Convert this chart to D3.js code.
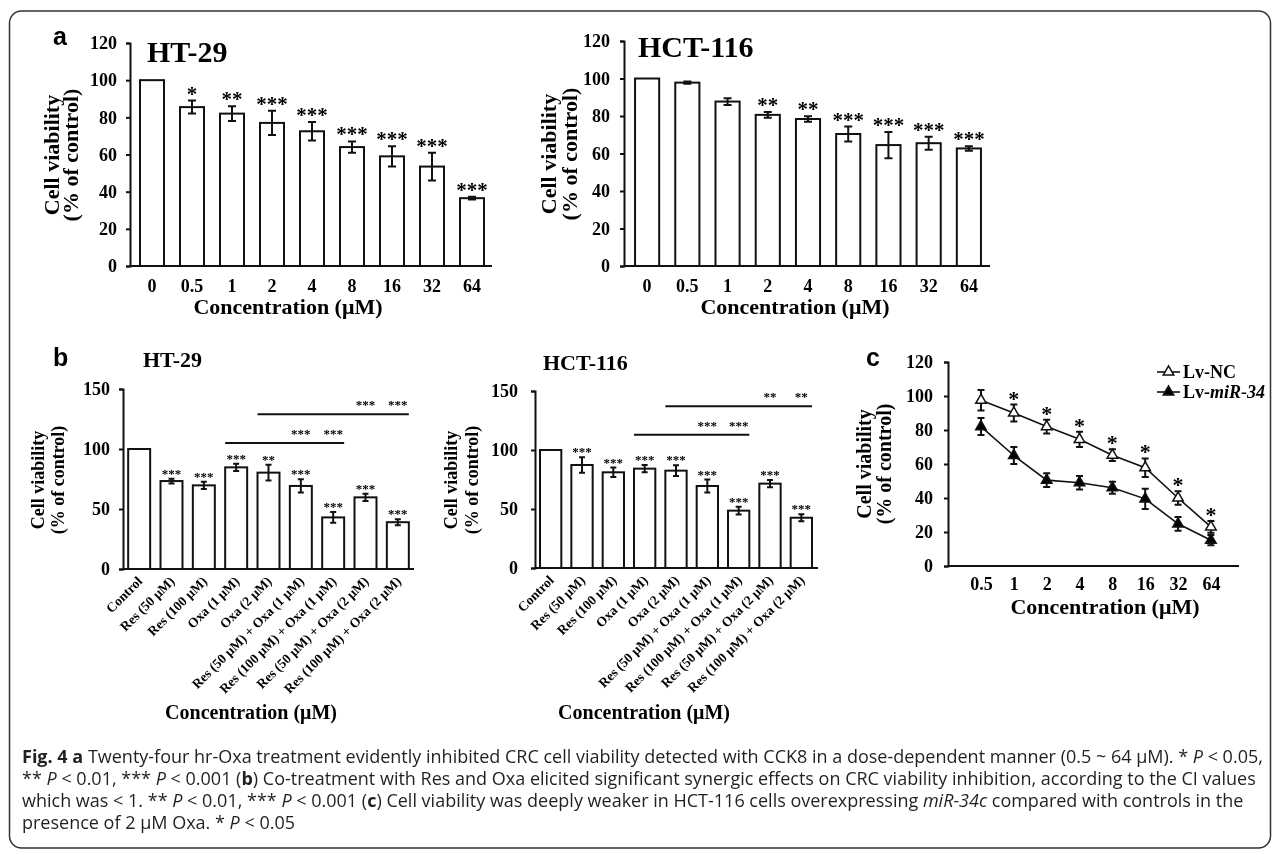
<!DOCTYPE html>
<html>
<head>
<meta charset="utf-8">
<script src="https://cdn.jsdelivr.net/npm/d3@7"></script>
<style>
body { margin: 0; background: #fff; }
#fig { will-change: transform; }
svg text { font-family: "Liberation Serif", "Times New Roman", serif; font-weight: bold; fill: #000; }
svg text.letter { font-family: "Liberation Sans", Arial, sans-serif; }
svg text.caption { font-family: "Open Sans", sans-serif; font-weight: normal; fill: #231f20; white-space: pre; }
</style>
</head>
<body>
<svg id="fig" width="1281" height="855"></svg>
<script>
// ---- data ----
var concA = ["0", "0.5", "1", "2", "4", "8", "16", "32", "64"];
var ht29A = [100, 85.5, 82, 77, 72.5, 64, 59, 53.5, 36.5];
var ht29AErr = [0, 3.5, 4, 6.5, 5, 3, 5.5, 7.5, 0.7];
var ht29ASig = ["", "*", "**", "***", "***", "***", "***", "***", "***"];
var hct116A = [100, 97.8, 87.7, 80.6, 78.4, 70.4, 64.5, 65.5, 62.7];
var hct116AErr = [0, 0.6, 1.8, 1.5, 1.5, 4, 7, 3.5, 1.2];
var hct116ASig = ["", "", "", "**", "**", "***", "***", "***", "***"];

var groupsB = ["Control", "Res (50 μM)", "Res (100 μM)", "Oxa (1 μM)", "Oxa (2 μM)",
  "Res (50 μM) + Oxa (1 μM)", "Res (100 μM) + Oxa (1 μM)", "Res (50 μM) + Oxa (2 μM)", "Res (100 μM) + Oxa (2 μM)"];
var ht29B = [100, 73.3, 69.7, 84.7, 80.3, 69.2, 43, 59.7, 39];
var ht29BErr = [0, 2, 3, 3, 6.5, 5.5, 4.5, 3, 2.5];
var ht29BSig = ["", "***", "***", "***", "**", "***", "***", "***", "***"];
var ht29Brackets = [[3, 6, 105, "***"], [4, 8, 129, "***"]];
var hct116B = [100, 87.3, 81.1, 84.2, 82.5, 69.5, 48.6, 71.5, 42.6];
var hct116BErr = [0, 6.5, 4, 3, 4.5, 5.5, 3.3, 3, 3];
var hct116BSig = ["", "***", "***", "***", "***", "***", "***", "***", "***"];
var hct116Brackets = [[3, 6, 113, "***"], [4, 8, 137, "**"]];

var concC = ["0.5", "1", "2", "4", "8", "16", "32", "64"];
var lvNC = [97.5, 90, 82, 74.5, 65.2, 57.8, 40, 23];
var lvNCErr = [6, 5, 4, 4.5, 3.5, 5.5, 4, 3.5];
var lvMiR = [82, 65, 50.5, 49, 46, 39.5, 24.8, 15.2];
var lvMiRErr = [5, 5, 4, 4, 3.5, 6, 4, 3];
var sigC = ["", "*", "*", "*", "*", "*", "*", "*"];

var svg = d3.select("#fig");

// outer frame
svg.append("rect")
  .attr("x", 9.5).attr("y", 11).attr("width", 1261).attr("height", 837).attr("rx", 12)
  .attr("fill", "none").attr("stroke", "#333").attr("stroke-width", 1.5);

function styleAxis(ax, fontSize) {
  ax.attr("font-family", null).attr("font-size", null);
  ax.selectAll(".domain, .tick line").attr("stroke", "#111").attr("stroke-width", 2);
  ax.selectAll(".tick text").style("font-size", fontSize + "px").attr("fill", "#000");
}

function addText(x, y, str, size, anchor, cls) {
  return svg.append("text").attr("x", x).attr("y", y)
    .attr("text-anchor", anchor || "start")
    .attr("class", cls || null)
    .style("font-size", size + "px").text(str);
}

function yLabel(b1, b2, cy, size) {
  [["Cell viability", b1], ["(% of control)", b2]].forEach(function(p) {
    svg.append("text")
      .attr("transform", `translate(${p[1]},${cy}) rotate(-90)`)
      .attr("text-anchor", "middle")
      .style("font-size", size + "px")
      .text(p[0]);
  });
}

// bar chart panel
function barPanel(o) {
  var x = d3.scaleBand().domain(o.cats).range(o.xRange)
    .paddingInner(o.padIn).paddingOuter(o.padOut);
  var y = d3.scaleLinear().domain([0, o.yMax]).range(o.yRange);
  var g = svg.append("g");

  // bars
  g.selectAll("rect").data(o.values).join("rect")
    .attr("x", (d, i) => x(o.cats[i]))
    .attr("y", d => y(d))
    .attr("width", x.bandwidth())
    .attr("height", d => y(0) - y(d))
    .attr("fill", "#fff").attr("stroke", "#111").attr("stroke-width", 2);

  // error bars
  o.values.forEach(function(v, i) {
    var e = o.errs[i];
    if (!e) return;
    var cx = x(o.cats[i]) + x.bandwidth() / 2;
    var path = d3.path();
    path.moveTo(cx, y(v - e)); path.lineTo(cx, y(v + e));
    path.moveTo(cx - o.cap, y(v - e)); path.lineTo(cx + o.cap, y(v - e));
    path.moveTo(cx - o.cap, y(v + e)); path.lineTo(cx + o.cap, y(v + e));
    g.append("path").attr("d", path.toString())
      .attr("stroke", "#111").attr("stroke-width", 2).attr("fill", "none");
  });

  // significance stars
  o.values.forEach(function(v, i) {
    if (!o.sig[i]) return;
    var cx = x(o.cats[i]) + x.bandwidth() / 2;
    g.append("text").attr("x", cx).attr("y", y(v + o.errs[i]) - o.starGap)
      .attr("text-anchor", "middle").style("font-size", o.starFont + "px")
      .text(o.sig[i]);
  });

  // comparison brackets
  (o.brackets || []).forEach(function(b) {
    var x0 = x(o.cats[b[0]]), x1 = x(o.cats[b[1]]) + x.bandwidth();
    g.append("line").attr("x1", x0).attr("x2", x1)
      .attr("y1", y(b[2])).attr("y2", y(b[2]))
      .attr("stroke", "#111").attr("stroke-width", 2);
    [b[1] - 1, b[1]].forEach(function(k) {
      g.append("text")
        .attr("x", x(o.cats[k]) + x.bandwidth() / 2)
        .attr("y", y(b[2]) - 5)
        .attr("text-anchor", "middle").style("font-size", o.starFont + "px")
        .text(b[3]);
    });
  });

  // axes
  var yAxis = g.append("g").attr("transform", `translate(${o.axisX},0)`)
    .call(d3.axisLeft(y).tickValues(o.yTicks).tickSize(4).tickSizeOuter(4).tickPadding(o.yPad));
  styleAxis(yAxis, o.tickFont);

  var xAxis = g.append("g").attr("transform", `translate(0,${y(0)})`)
    .call(d3.axisBottom(x).tickSize(0).tickPadding(o.xPad));
  xAxis.select(".domain").attr("d", `M${o.axisX},0H${o.xRange[1] + o.xOver}`);
  styleAxis(xAxis, o.xFont);
  if (o.rotate) {
    xAxis.selectAll(".tick text")
      .attr("x", 0).attr("y", 0).attr("dy", null)
      .attr("text-anchor", "end")
      .attr("transform", "translate(4,13) rotate(-45)");
  }
  return { x: x, y: y };
}

// ---- panel a ----
addText(53, 45, "a", 25, "start", "letter");
barPanel({
  cats: concA, values: ht29A, errs: ht29AErr, sig: ht29ASig,
  xRange: [132, 492], padIn: 0.4, padOut: 0.2, xOver: 0,
  yMax: 120, yRange: [266, 43], yTicks: d3.range(0, 121, 20), axisX: 130,
  yPad: 9, xPad: 13, tickFont: 18, xFont: 18, cap: 4, starFont: 21, starGap: 0
});
addText(147, 62, "HT-29", 30);
yLabel(59, 78, 155, 22);
addText(288, 314, "Concentration (μM)", 22, "middle");

barPanel({
  cats: concA, values: hct116A, errs: hct116AErr, sig: hct116ASig,
  xRange: [627, 989], padIn: 0.4, padOut: 0.2, xOver: 1,
  yMax: 120, yRange: [266, 41], yTicks: d3.range(0, 121, 20), axisX: 624,
  yPad: 10, xPad: 13, tickFont: 18, xFont: 18, cap: 4, starFont: 21, starGap: 0
});
addText(638, 57, "HCT-116", 30);
yLabel(556, 577, 154, 22);
addText(795, 314, "Concentration (μM)", 22, "middle");

// ---- panel b ----
addText(53, 366, "b", 25, "start", "letter");
barPanel({
  cats: groupsB, values: ht29B, errs: ht29BErr, sig: ht29BSig, brackets: ht29Brackets,
  xRange: [123, 414], padIn: 0.32, padOut: 0.16, xOver: 0, rotate: true,
  yMax: 150, yRange: [569, 389], yTicks: [0, 50, 100, 150], axisX: 123,
  yPad: 9, xPad: 0, tickFont: 18, xFont: 13.5, cap: 3, starFont: 13, starGap: 1
});
addText(143, 367, "HT-29", 22);
yLabel(44, 64, 480, 18);
addText(251, 719, "Concentration (μM)", 20, "middle");

barPanel({
  cats: groupsB, values: hct116B, errs: hct116BErr, sig: hct116BSig, brackets: hct116Brackets,
  xRange: [535, 817], padIn: 0.32, padOut: 0.16, xOver: 1, rotate: true,
  yMax: 150, yRange: [568, 391], yTicks: [0, 50, 100, 150], axisX: 535,
  yPad: 13, xPad: 0, tickFont: 18, xFont: 13.5, cap: 3, starFont: 13, starGap: 1
});
addText(543, 370, "HCT-116", 22);
yLabel(457, 478, 480, 18);
addText(644, 719, "Concentration (μM)", 20, "middle");

// ---- panel c ----
addText(866, 366, "c", 25, "start", "letter");
(function() {
  var x = d3.scalePoint().domain(concC).range([948, 1239]).padding(0.93).align(0.54);
  var y = d3.scaleLinear().domain([0, 120]).range([566, 362]);
  var g = svg.append("g");
  var line = d3.line().x((d, i) => x(concC[i])).y(d => y(d));

  [[lvNC, lvNCErr, "#fff"], [lvMiR, lvMiRErr, "#000"]].forEach(function(s) {
    g.append("path").attr("d", line(s[0]))
      .attr("fill", "none").attr("stroke", "#111").attr("stroke-width", 1.6);
    s[0].forEach(function(v, i) {
      var cx = x(concC[i]), e = s[1][i];
      var p = d3.path();
      p.moveTo(cx, y(v - e)); p.lineTo(cx, y(v + e));
      p.moveTo(cx - 3.5, y(v - e)); p.lineTo(cx + 3.5, y(v - e));
      p.moveTo(cx - 3.5, y(v + e)); p.lineTo(cx + 3.5, y(v + e));
      g.append("path").attr("d", p.toString())
        .attr("stroke", "#111").attr("stroke-width", 2).attr("fill", "none");
    });
    g.selectAll(null).data(s[0]).join("path")
      .attr("d", d3.symbol(d3.symbolTriangle, 48))
      .attr("transform", (d, i) => `translate(${x(concC[i])},${y(d)})`)
      .attr("fill", s[2]).attr("stroke", "#111").attr("stroke-width", 1.5);
  });

  lvNC.forEach(function(v, i) {
    if (!sigC[i]) return;
    g.append("text").attr("x", x(concC[i])).attr("y", y(v + lvNCErr[i]) + 1)
      .attr("text-anchor", "middle").style("font-size", "22px").text(sigC[i]);
  });

  var yAxis = g.append("g").attr("transform", "translate(948,0)")
    .call(d3.axisLeft(y).tickValues(d3.range(0, 121, 20)).tickSize(4).tickSizeOuter(4).tickPadding(11));
  styleAxis(yAxis, 18);
  var xAxis = g.append("g").attr("transform", `translate(0,${y(0)})`)
    .call(d3.axisBottom(x).tickSize(0).tickPadding(11));
  xAxis.select(".domain").attr("d", "M948,0H1239");
  styleAxis(xAxis, 18);

  // legend
  [["Lv-NC", null, "#fff", 372], ["Lv-", "miR-34", "#000", 392]].forEach(function(l) {
    g.append("line").attr("x1", 1157).attr("x2", 1180).attr("y1", l[3]).attr("y2", l[3])
      .attr("stroke", "#111").attr("stroke-width", 1.6);
    g.append("path").attr("d", d3.symbol(d3.symbolTriangle, 48))
      .attr("transform", `translate(1168.5,${l[3]})`)
      .attr("fill", l[2]).attr("stroke", "#111").attr("stroke-width", 1.5);
    var t = g.append("text").attr("x", 1183).attr("y", l[3] + 6).style("font-size", "18px").text(l[0]);
    if (l[1]) t.append("tspan").style("font-style", "italic").text(l[1]);
  });
})();
yLabel(871, 891, 464, 20);
addText(1105, 614, "Concentration (μM)", 22, "middle");

// ---- caption ----
var captionLines = [
  [["Fig. 4 a", "b"], [" Twenty-four hr-Oxa treatment evidently inhibited CRC cell viability detected with CCK8 in a dose-dependent manner (0.5 ~ 64 μM). * ", ""], ["P", "i"], [" < 0.05,", ""]],
  [["** ", ""], ["P", "i"], [" < 0.01, *** ", ""], ["P", "i"], [" < 0.001 (", ""], ["b", "b"], [") Co-treatment with Res and Oxa elicited significant synergic effects on CRC viability inhibition, according to the CI values", ""]],
  [["which was < 1. ** ", ""], ["P", "i"], [" < 0.01, *** ", ""], ["P", "i"], [" < 0.001 (", ""], ["c", "b"], [") Cell viability was deeply weaker in HCT-116 cells overexpressing ", ""], ["miR-34c", "i"], [" compared with controls in the", ""]],
  [["presence of 2 μM Oxa. * ", ""], ["P", "i"], [" < 0.05", ""]]
];
var capX = 22, capY = 763, capStep = 22, capWidth = 1241;
var capTexts = captionLines.map(function(parts, li) {
  var t = svg.append("text").attr("class", "caption")
    .attr("x", capX).attr("y", capY + li * capStep).style("font-size", "17px");
  parts.forEach(function(p) {
    var ts = t.append("tspan").text(p[0]);
    if (p[1] === "b") ts.style("font-weight", "bold");
    if (p[1] === "i") ts.style("font-style", "italic");
  });
  return t;
});
var fit = 17 * capWidth / capTexts[0].node().getComputedTextLength();
capTexts.forEach(t => t.style("font-size", fit + "px"));
</script>
</body>
</html>
